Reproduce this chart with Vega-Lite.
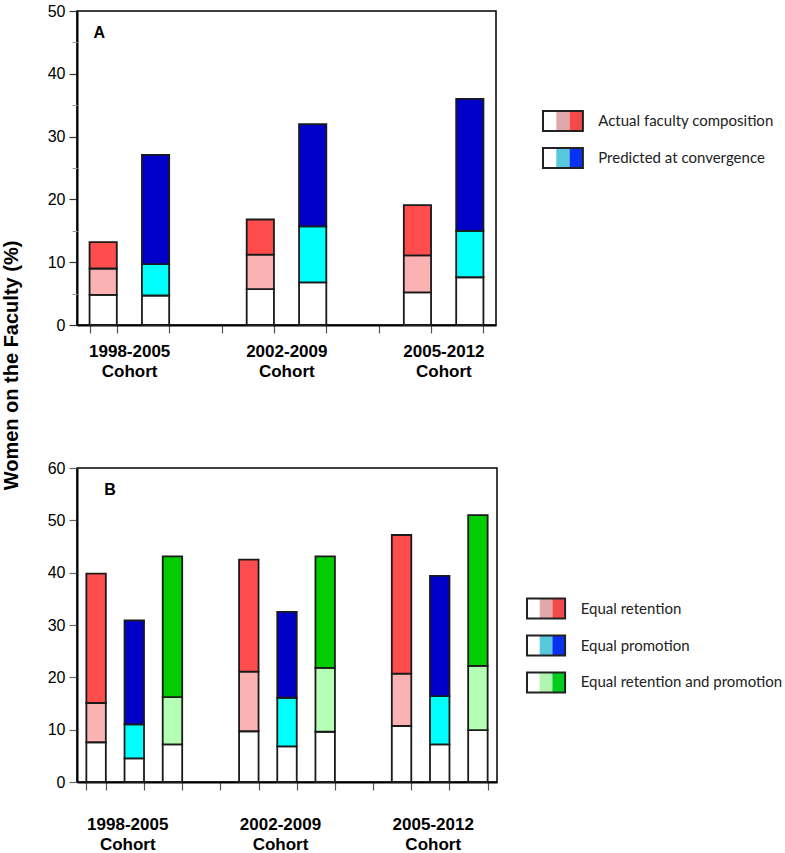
{
  "$schema": "https://vega.github.io/schema/vega-lite/v6.json",
  "background": "white",
  "padding": {"left": 2, "top": 2, "right": 2, "bottom": 0},
  "config": {
    "view": {"stroke": "black", "strokeWidth": 1.5},
    "axis": {"grid": false, "domainColor": "black", "domainWidth": 2, "labelFont": "Liberation Sans", "labelColor": "black", "titleFont": "Liberation Sans"},
    "text": {"font": "Liberation Sans"}
  },
  "title": {"text": "Women on the Faculty (%)", "orient": "left", "anchor": "middle", "font": "Liberation Sans", "fontSize": 20, "fontWeight": "bold", "color": "black", "offset": 24, "dx": 62},
  "resolve": {"scale": {"color": "independent"}},
  "datasets": {
    "barsA": [
      {"slot": "a1", "series": "Actual", "part": 1, "key": "A1", "value": 4.8},
      {"slot": "a1", "series": "Actual", "part": 2, "key": "A2", "value": 4.2},
      {"slot": "a1", "series": "Actual", "part": 3, "key": "A3", "value": 4.2},
      {"slot": "a2", "series": "Predicted", "part": 1, "key": "P1", "value": 4.7},
      {"slot": "a2", "series": "Predicted", "part": 2, "key": "P2", "value": 5.0},
      {"slot": "a2", "series": "Predicted", "part": 3, "key": "P3", "value": 17.4},
      {"slot": "b1", "series": "Actual", "part": 1, "key": "A1", "value": 5.7},
      {"slot": "b1", "series": "Actual", "part": 2, "key": "A2", "value": 5.5},
      {"slot": "b1", "series": "Actual", "part": 3, "key": "A3", "value": 5.6},
      {"slot": "b2", "series": "Predicted", "part": 1, "key": "P1", "value": 6.8},
      {"slot": "b2", "series": "Predicted", "part": 2, "key": "P2", "value": 8.9},
      {"slot": "b2", "series": "Predicted", "part": 3, "key": "P3", "value": 16.3},
      {"slot": "c1", "series": "Actual", "part": 1, "key": "A1", "value": 5.2},
      {"slot": "c1", "series": "Actual", "part": 2, "key": "A2", "value": 5.9},
      {"slot": "c1", "series": "Actual", "part": 3, "key": "A3", "value": 8.0},
      {"slot": "c2", "series": "Predicted", "part": 1, "key": "P1", "value": 7.6},
      {"slot": "c2", "series": "Predicted", "part": 2, "key": "P2", "value": 7.4},
      {"slot": "c2", "series": "Predicted", "part": 3, "key": "P3", "value": 21.0}
    ],
    "barsB": [
      {"slot": "r1", "part": 1, "key": "R1", "value": 7.6},
      {"slot": "r1", "part": 2, "key": "R2", "value": 7.5},
      {"slot": "r1", "part": 3, "key": "R3", "value": 24.7},
      {"slot": "p1", "part": 1, "key": "M1", "value": 4.5},
      {"slot": "p1", "part": 2, "key": "M2", "value": 6.5},
      {"slot": "p1", "part": 3, "key": "M3", "value": 19.9},
      {"slot": "e1", "part": 1, "key": "E1", "value": 7.2},
      {"slot": "e1", "part": 2, "key": "E2", "value": 9.0},
      {"slot": "e1", "part": 3, "key": "E3", "value": 26.9},
      {"slot": "r2", "part": 1, "key": "R1", "value": 9.7},
      {"slot": "r2", "part": 2, "key": "R2", "value": 11.4},
      {"slot": "r2", "part": 3, "key": "R3", "value": 21.4},
      {"slot": "p2", "part": 1, "key": "M1", "value": 6.8},
      {"slot": "p2", "part": 2, "key": "M2", "value": 9.3},
      {"slot": "p2", "part": 3, "key": "M3", "value": 16.4},
      {"slot": "e2", "part": 1, "key": "E1", "value": 9.6},
      {"slot": "e2", "part": 2, "key": "E2", "value": 12.2},
      {"slot": "e2", "part": 3, "key": "E3", "value": 21.3},
      {"slot": "r3", "part": 1, "key": "R1", "value": 10.7},
      {"slot": "r3", "part": 2, "key": "R2", "value": 10.0},
      {"slot": "r3", "part": 3, "key": "R3", "value": 26.5},
      {"slot": "p3", "part": 1, "key": "M1", "value": 7.2},
      {"slot": "p3", "part": 2, "key": "M2", "value": 9.2},
      {"slot": "p3", "part": 3, "key": "M3", "value": 23.0},
      {"slot": "e3", "part": 1, "key": "E1", "value": 9.9},
      {"slot": "e3", "part": 2, "key": "E2", "value": 12.3},
      {"slot": "e3", "part": 3, "key": "E3", "value": 28.8}
    ],
    "legendA": [
      {"row": "Actual faculty composition", "seg": "s1", "key": "w"},
      {"row": "Actual faculty composition", "seg": "s2", "key": "lp"},
      {"row": "Actual faculty composition", "seg": "s3", "key": "lr"},
      {"row": "Predicted at convergence", "seg": "s1", "key": "w"},
      {"row": "Predicted at convergence", "seg": "s2", "key": "lc"},
      {"row": "Predicted at convergence", "seg": "s3", "key": "lb"}
    ],
    "legendB": [
      {"row": "Equal retention", "seg": "s1", "key": "w"},
      {"row": "Equal retention", "seg": "s2", "key": "lp"},
      {"row": "Equal retention", "seg": "s3", "key": "lr"},
      {"row": "Equal promotion", "seg": "s1", "key": "w"},
      {"row": "Equal promotion", "seg": "s2", "key": "lc"},
      {"row": "Equal promotion", "seg": "s3", "key": "lb"},
      {"row": "Equal retention and promotion", "seg": "s1", "key": "w"},
      {"row": "Equal retention and promotion", "seg": "s2", "key": "lg2"},
      {"row": "Equal retention and promotion", "seg": "s3", "key": "lg"}
    ],
    "labelA": [{"label": "A", "slot": "a1", "value": 46.5}],
    "labelB": [{"label": "B", "slot": "r1", "value": 55.8}]
  },
  "vconcat": [
    {
      "hconcat": [
        {
          "width": 419,
          "height": 314,
          "layer": [
            {
              "data": {"name": "barsA"},
              "mark": {"type": "bar", "stroke": "#1a1a1a", "strokeWidth": 1.8},
              "encoding": {
                "x": {"field": "slot", "type": "nominal", "scale": {"domain": ["a1", "a2", "ga", "b1", "b2", "gb", "c1", "c2"], "paddingInner": 0.48, "paddingOuter": 0.24},
                  "axis": {"title": null, "tickBand": "extent", "tickSize": 8, "tickColor": "#555", "tickWidth": 1.2, "labelOffset": 26, "labelPadding": 10, "labelAngle": 0, "labelFontSize": 17, "labelFontWeight": "bold", "labelLineHeight": 20, "labelOverlap": false,
                    "labelExpr": "datum.value == 'a1' ? ['1998-2005', 'Cohort'] : datum.value == 'b1' ? ['2002-2009', 'Cohort'] : datum.value == 'c1' ? ['2005-2012', 'Cohort'] : ''"}},
                "y": {"field": "value", "type": "quantitative", "stack": "zero", "scale": {"domain": [0, 50], "nice": false},
                  "axis": {"title": null, "values": [0, 10, 20, 30, 40, 50], "tickSize": 8, "tickColor": "#333", "tickWidth": 1.2, "labelFontSize": 16, "labelPadding": 4}},
                "order": {"field": "part", "type": "quantitative"},
                "color": {"field": "key", "type": "nominal", "legend": null,
                  "scale": {"domain": ["A1", "A2", "A3", "P1", "P2", "P3"], "range": ["#ffffff", "#fbb2b2", "#ff4d4d", "#ffffff", "#00ffff", "#0000c8"]}}
              }
            },
            {
              "data": {"name": "labelA"},
              "mark": {"type": "text", "fontSize": 16, "fontWeight": "bold", "align": "center", "baseline": "middle", "dx": -4, "color": "black"},
              "encoding": {
                "x": {"field": "slot", "type": "nominal"},
                "y": {"field": "value", "type": "quantitative",
                  "axis": {"orient": "left", "title": null, "values": [5, 15, 25, 35, 45], "labels": false, "domain": false, "tickSize": 5, "tickColor": "#999", "tickWidth": 1}},
                "text": {"field": "label"}
              }
            }
          ],
          "resolve": {"axis": {"y": "independent"}}
        },
        {
          "data": {"name": "legendA"},
          "width": {"step": 13.3},
          "height": 314,
          "view": {"stroke": null},
          "encoding": {
            "y": {"field": "row", "type": "nominal", "axis": null,
              "scale": {"domain": ["e0", "e1", "Actual faculty composition", "Predicted at convergence", "e4", "e5", "e6", "e7"], "paddingInner": 0, "paddingOuter": 0.25, "align": 0.96}}
          },
          "layer": [
            {
              "mark": {"type": "bar", "height": 20},
              "encoding": {
                "x": {"field": "seg", "type": "nominal", "axis": null, "scale": {"paddingInner": 0, "paddingOuter": 0}},
                "color": {"field": "key", "type": "nominal", "legend": null,
                  "scale": {"domain": ["w", "lp", "lr", "lc", "lb", "lg2", "lg"], "range": ["#ffffff", "#e0a8a8", "#f24a4a", "#58c8dc", "#0832f0", "#b0f5b0", "#00cc1e"]}}
              }
            },
            {
              "transform": [{"filter": "datum.seg == 's1'"}],
              "mark": {"type": "bar", "height": 20, "fill": null, "fillOpacity": 0, "stroke": "#222", "strokeWidth": 2},
              "encoding": {}
            },
            {
              "transform": [{"filter": "datum.seg == 's3'"}],
              "mark": {"type": "text", "align": "left", "baseline": "middle", "dx": 22, "font": "Lato", "fontSize": 15, "color": "#222"},
              "encoding": {
                "x": {"field": "seg", "type": "nominal"},
                "text": {"field": "row"}
              }
            }
          ]
        }
      ],
      "spacing": 45,
      "resolve": {"scale": {"color": "independent"}}
    },
    {
      "hconcat": [
        {
          "width": 420,
          "height": 314,
          "layer": [
            {
              "data": {"name": "barsB"},
              "mark": {"type": "bar", "stroke": "#1a1a1a", "strokeWidth": 1.8},
              "encoding": {
                "x": {"field": "slot", "type": "nominal", "scale": {"domain": ["r1", "p1", "e1", "g1", "r2", "p2", "e2", "g2", "r3", "p3", "e3"], "paddingInner": 0.49, "paddingOuter": 0.245},
                  "axis": {"title": null, "tickBand": "extent", "tickSize": 8, "tickColor": "#555", "tickWidth": 1.2, "labelOffset": -7, "labelPadding": 26, "labelAngle": 0, "labelFontSize": 17, "labelFontWeight": "bold", "labelLineHeight": 20, "labelOverlap": false,
                    "labelExpr": "datum.value == 'p1' ? ['1998-2005', 'Cohort'] : datum.value == 'p2' ? ['2002-2009', 'Cohort'] : datum.value == 'p3' ? ['2005-2012', 'Cohort'] : ''"}},
                "y": {"field": "value", "type": "quantitative", "stack": "zero", "scale": {"domain": [0, 60], "nice": false},
                  "axis": {"title": null, "values": [0, 10, 20, 30, 40, 50, 60], "tickSize": 8, "tickColor": "#666", "tickWidth": 1.2, "labelFontSize": 16, "labelPadding": 4}},
                "order": {"field": "part", "type": "quantitative"},
                "color": {"field": "key", "type": "nominal", "legend": null,
                  "scale": {"domain": ["R1", "R2", "R3", "M1", "M2", "M3", "E1", "E2", "E3"], "range": ["#ffffff", "#fbb2b2", "#ff4d4d", "#ffffff", "#00ffff", "#0000c8", "#ffffff", "#b4ffb4", "#00cc00"]}}
              }
            },
            {
              "data": {"name": "labelB"},
              "mark": {"type": "text", "fontSize": 16, "fontWeight": "bold", "align": "center", "baseline": "middle", "dx": 14, "color": "black"},
              "encoding": {
                "x": {"field": "slot", "type": "nominal"},
                "y": {"field": "value", "type": "quantitative"},
                "text": {"field": "label"}
              }
            }
          ]
        },
        {
          "data": {"name": "legendB"},
          "width": {"step": 12.7},
          "height": 314,
          "view": {"stroke": null},
          "encoding": {
            "y": {"field": "row", "type": "nominal", "axis": null,
              "scale": {"domain": ["e0", "e1", "e2", "Equal retention", "Equal promotion", "Equal retention and promotion", "e6", "e7"], "paddingInner": 0, "paddingOuter": 0.25, "align": 0.61}}
          },
          "layer": [
            {
              "mark": {"type": "bar", "height": 20},
              "encoding": {
                "x": {"field": "seg", "type": "nominal", "axis": null, "scale": {"paddingInner": 0, "paddingOuter": 0}},
                "color": {"field": "key", "type": "nominal", "legend": null,
                  "scale": {"domain": ["w", "lp", "lr", "lc", "lb", "lg2", "lg"], "range": ["#ffffff", "#e0a8a8", "#f24a4a", "#58c8dc", "#0832f0", "#b0f5b0", "#00cc1e"]}}
              }
            },
            {
              "transform": [{"filter": "datum.seg == 's1'"}],
              "mark": {"type": "bar", "height": 20, "fill": null, "fillOpacity": 0, "stroke": "#222", "strokeWidth": 2},
              "encoding": {}
            },
            {
              "transform": [{"filter": "datum.seg == 's3'"}],
              "mark": {"type": "text", "align": "left", "baseline": "middle", "dx": 22, "font": "Lato", "fontSize": 15, "color": "#222"},
              "encoding": {
                "x": {"field": "seg", "type": "nominal"},
                "text": {"field": "row"}
              }
            }
          ]
        }
      ],
      "spacing": 28,
      "resolve": {"scale": {"color": "independent"}}
    }
  ],
  "spacing": 79
}
